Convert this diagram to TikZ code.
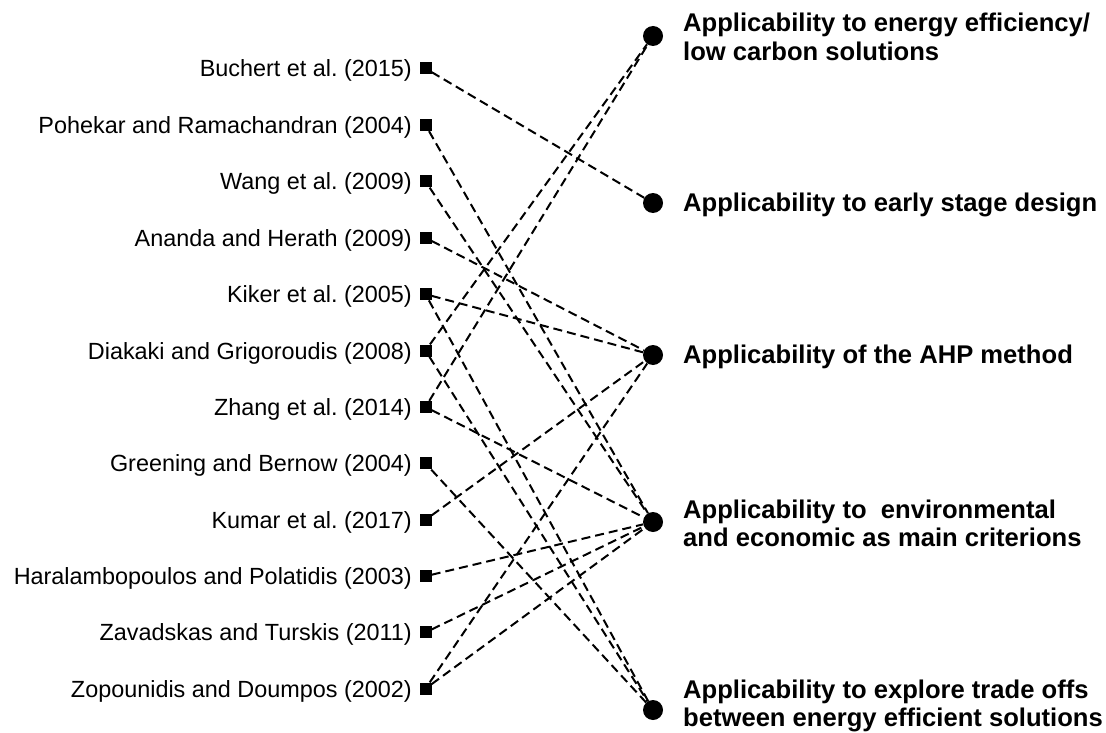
\documentclass[tikz,border=0pt]{standalone}
\usepackage{fontspec}
\setmainfont{Liberation Sans}
\frenchspacing
\newcommand{\twolines}[2]{\begin{tabular}[t]{@{}l@{}}#1\\#2\end{tabular}}
\begin{document}
\begin{tikzpicture}[x=1pt,y=-1pt,
  src/.style={fill=black,inner sep=0pt,minimum size=12pt,rectangle},
  dst/.style={fill=black,inner sep=0pt,minimum size=20pt,circle},
  srclabel/.style={anchor=base east,inner sep=0pt,font=\fontsize{23.4}{28}\selectfont},
  dstlabel/.style={anchor=base west,inner sep=0pt,font=\fontsize{25.6}{28.4}\selectfont\bfseries},
  link/.style={line width=2pt,dash pattern=on 9pt off 5pt}]
\useasboundingbox (0,0) rectangle (1106,733);

% sources (left column)
\foreach \n/\y/\t in {
  1/68.5/{Buchert et al. (2015)},
  2/125/{Pohekar and Ramachandran (2004)},
  3/181.4/{Wang et al. (2009)},
  4/237.8/{Ananda and Herath (2009)},
  5/294.2/{Kiker et al. (2005)},
  6/350.6/{Diakaki and Grigoroudis (2008)},
  7/407/{Zhang et al. (2014)},
  8/463.4/{Greening and Bernow (2004)},
  9/519.8/{Kumar et al. (2017)},
  10/576.2/{Haralambopoulos and Polatidis (2003)},
  11/632.4/{Zavadskas and Turskis (2011)},
  12/688.6/{Zopounidis and Doumpos (2002)}}{
  \node[src] (s\n) at (425.5,\y) {};
  \node[srclabel] (ts\n) at (412,\y+8.4) {\t};
}

% criteria (right column)
\node[dst] (c1) at (653,36) {};
\node[dst] (c2) at (653,203) {};
\node[dst] (c3) at (653,355) {};
\node[dst] (c4) at (653,522) {};
\node[dst] (c5) at (653,710) {};
\node[dstlabel] (tc1) at (683,31.7) {\twolines{Applicability to energy efficiency/}{low carbon solutions}};
\node[dstlabel] (tc2) at (683,211.7) {Applicability to early stage design};
\node[dstlabel] (tc3) at (683,363.5) {Applicability of the AHP method};
\node[dstlabel] (tc4) at (683,518.3) {\twolines{Applicability to\ \ environmental}{and economic as main criterions}};
\node[dstlabel] (tc5) at (683,698) {\twolines{Applicability to explore trade offs}{between energy efficient solutions}};

% links
\foreach \a/\b in {1/2, 2/4, 3/4, 4/3, 5/3, 5/5, 6/1, 6/5, 7/1, 7/4,
                   8/5, 9/3, 10/4, 11/4, 12/3, 12/4}
  \draw[link] (s\a) -- (c\b);
\end{tikzpicture}
\end{document}
